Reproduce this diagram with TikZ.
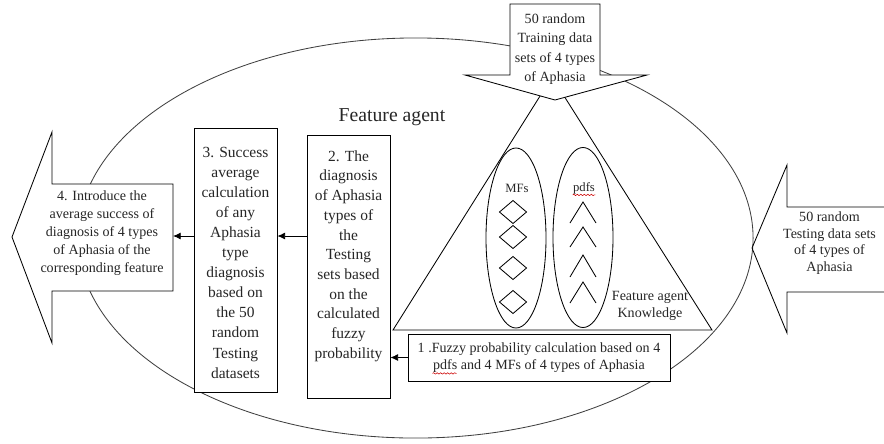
\documentclass[tikz,border=0pt]{standalone}
\usepackage{fontspec}
\setmainfont{Liberation Serif}
\usetikzlibrary{arrows.meta,positioning,decorations.pathmorphing}

\begin{document}
\begin{tikzpicture}[x=0.025cm, y=-0.025cm, line width=0.6pt,
    every node/.style={font=\fontsize{10}{12}\selectfont, align=center, inner sep=0pt, text=black!85},
    stepbox/.style={draw, fill=white, minimum width=2.075cm},
    steptext/.style={font=\fontsize{11}{14}\selectfont},
    flow/.style={-{Latex[length=5.5pt,width=5pt]}},
    spell/.style={red!80!black, line width=0.4pt, decorate,
      decoration={snake, amplitude=0.5pt, segment length=2.5pt}}]
  \useasboundingbox (0,0) rectangle (884,443);

  % agent and its knowledge
  \draw[black!75] (415.5,238) ellipse [x radius=8.4375cm, y radius=5cm];
  \coordinate (apex) at (552,77);
  \coordinate (kl) at (393,330);
  \coordinate (kr) at (712,330);
  \draw (apex) -- (kl) -- (kr) -- cycle;
  \node[font=\fontsize{14}{16}\selectfont] (agent) at (392,117) {Feature agent};

  \draw (516,238) ellipse [x radius=0.75cm, y radius=2.25cm];
  \draw (583,237.5) ellipse [x radius=0.75cm, y radius=2.25cm];
  \node[font=\fontsize{9}{10}\selectfont] (mfs) at (517,188) {MFs};
  \node[font=\fontsize{9}{10}\selectfont] (pdfs) at (584,188) {pdfs};
  \draw[spell] ([yshift=-0.5pt]pdfs.south west) -- ([yshift=-0.5pt]pdfs.south east);
  \foreach \y in {212,237,268,302}
    \draw (499.5,\y) -- ++(13.5,-11.5) -- ++(13.5,11.5) -- ++(-13.5,11.5) -- cycle;
  \foreach \t/\b in {202/223,227/247,255/277,282/303}
    \draw (570,\b) -- (583,\t) -- (596,\b);
  \node (know) at (650,305.5) {Feature agent\\Knowledge};

  % incoming data sets
  \draw[fill=white] (510,4) -- (600,4) -- (600,75) -- (647,75) -- (555,100)
    -- (465,75) -- (510,75) -- cycle;
  \node[font=\fontsize{10}{13.9}\selectfont] (train) at (555,49)
    {50 random\\Training data\\sets of 4 types\\of Aphasia};
  \draw (884,207) -- (787,207) -- (787,165) -- (752,248) -- (787,333)
    -- (787,292) -- (884,292);
  \node[font=\fontsize{10}{11.8}\selectfont] (test) at (829.5,243)
    {50 random\\Testing data sets\\of 4 types of\\Aphasia};

  % steps
  \node[draw, fill=white, minimum width=6.55cm, minimum height=1.175cm] (fuzzy) at (539,357.5)
    {1 .Fuzzy probability calculation based on 4\\pdfs and 4 MFs of 4 types of Aphasia};
  \draw[spell] ([shift={(25,-8)}]fuzzy.south west) -- ++(24,0);

  \node[stepbox, minimum height=6.575cm] (diag) at (348.5,266.5) {};
  \node[steptext, below=0.39cm of diag.north] (diagtext)
    {2. The\\diagnosis\\of Aphasia\\types of\\the\\Testing\\sets based\\on the\\calculated\\fuzzy\\probability};
  \node[stepbox, minimum height=6.6cm] (succ) at (235.5,260) {};
  \node[steptext, font=\fontsize{11}{14.3}\selectfont, below=0.47cm of succ.north] (succtext)
    {3. Success\\average\\calculation\\of any\\Aphasia\\type\\diagnosis\\based on\\the 50\\random\\Testing\\datasets};

  \draw[fill=white] (173,184) -- (52,184) -- (52,132) -- (12,237) -- (52,343)
    -- (52,291) -- (173,291) -- cycle;
  \coordinate (intro-in) at (173,236);
  \node[font=\fontsize{10}{12.9}\selectfont] (intro) at (102,233)
    {4. Introduce the\\average success of\\diagnosis of 4 types\\of Aphasia of the\\corresponding feature};

  \draw[flow] (fuzzy.west) -- (fuzzy.west -| diag.east);
  \draw[flow] (diag.west |- intro-in) -- (succ.east |- intro-in);
  \draw[flow] (succ.west |- intro-in) -- (intro-in);
\end{tikzpicture}
\end{document}
